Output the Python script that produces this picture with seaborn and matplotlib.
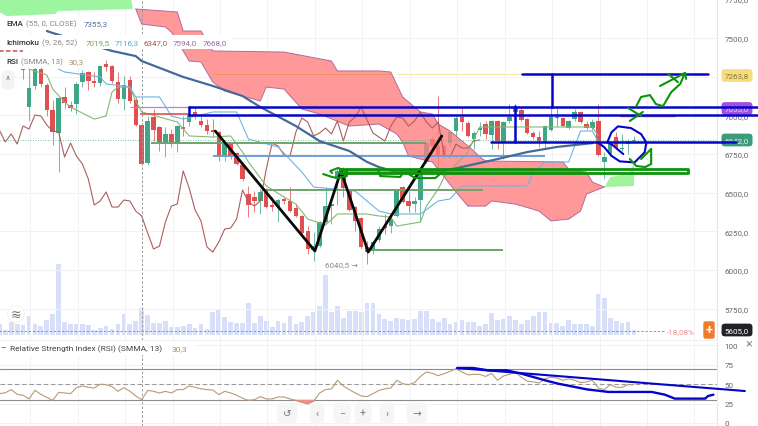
import numpy as np
import matplotlib
matplotlib.use("Agg")
import matplotlib.pyplot as plt
from matplotlib.patches import Rectangle
import seaborn as sns

# ---------- data ----------
opens = [7298,7053,7189,7298,7195,7034,6885,7118,7066,7072,7214,7279,7221,7208,7331,7318,7214,7105,7227,7098,
         6937,6691,6988,6924,6820,6879,6820,6924,6956,7021,6963,6937,6904,6891,6730,6820,6756,6678,6491,6472,
         6446,6523,6420,6407,6459,6446,6401,6349,6252,6129,6155,6310,6413,6588,6640,6510,6407,6336,6149,6123,
         6194,6284,6284,6349,6536,6446,6426,6452,6698,6846,6801,6801,6820,6898,6988,6950,6846,6904,6943,6872,
         6963,6827,6963,7021,7034,6975,6885,6859,6827,6904,6988,6982,6917,6975,7021,6943,6917,6963,6698,6749,
         6859,6782,6814,6833]
highs = [7298,7298,7311,7311,7208,7098,7118,7182,7092,7214,7292,7286,7279,7324,7357,7324,7279,7253,7253,7118,
         6950,6995,7040,6930,6924,6911,6937,6995,7053,7053,7008,6975,6975,6898,6827,6827,6762,6685,6543,6510,
         6523,6530,6472,6459,6472,6536,6426,6355,6284,6245,6317,6536,6426,6665,6665,6523,6413,6342,6187,6187,
         6284,6362,6362,6523,6543,6510,6472,6659,6827,6866,7124,6814,6898,6995,7053,6963,6898,6956,6963,6969,
         6969,6963,7072,7072,7053,6982,6898,6898,6937,7053,7047,6988,6969,7040,7027,6963,6975,7072,6762,6827,
         6891,6878,6846,6866]
lows = [7234,6963,7169,7182,6995,6808,6633,7047,7027,7008,7182,7163,7182,7189,7286,7208,7079,7034,7079,6930,
        6678,6678,6833,6769,6730,6795,6762,6866,6930,6975,6924,6879,6859,6704,6704,6717,6678,6575,6342,6375,
        6362,6401,6381,6310,6426,6375,6342,6233,6103,6058,6149,6304,6297,6420,6472,6381,6252,6142,6040.5,6103,
        6181,6233,6239,6342,6433,6375,6375,6310,6691,6782,6652,6717,6801,6846,6898,6859,6782,6866,6846,6782,
        6782,6717,6950,7001,6963,6879,6846,6795,6782,6898,6930,6924,6911,6963,6950,6911,6904,6736,6588,6736,
        6782,6769,6749,6827]
closes = [7292,7176,7298,7202,7034,6891,7111,7079,7047,7202,7273,7221,7208,7318,7311,7221,7105,7195,7092,6937,
          6685,6963,6904,6827,6879,6814,6930,6911,7001,6995,6937,6898,6891,6730,6820,6736,6685,6588,6420,6446,
          6504,6407,6407,6452,6446,6381,6349,6239,6136,6155,6310,6413,6426,6640,6530,6388,6317,6149,6116,6181,
          6265,6271,6329,6517,6439,6413,6446,6652,6820,6801,6743,6736,6891,6982,6956,6866,6885,6917,6879,6963,
          6833,6956,6988,7053,6969,6885,6859,6833,6930,6988,6982,6930,6963,7021,6956,6917,6956,6743,6730,6814,
          6788,6788,6833,6840]
first_candle = 4

volume = [33,16,38,33,31,58,33,27,46,64,212,40,32,34,34,29,16,22,27,19,33,64,32,41,80,60,35,35,43,25,
          25,27,33,21,33,18,68,74,53,40,35,35,95,37,56,41,25,43,35,56,32,40,56,68,88,180,68,86,50,71,
          72,70,97,95,63,48,41,52,48,45,48,72,72,48,38,50,34,40,46,39,40,26,32,65,46,48,56,44,34,44,
          56,68,68,37,35,27,44,34,34,34,26,122,110,52,41,36,40,16]

rsi = [37.8,39,43,37,35.7,31,42,37,33,29,39.5,38.7,37.8,45.5,47.7,46,45,50,49.4,46.8,40.8,45.5,41,34.8,30,
       42,40.8,38.7,40.8,38.7,43,43,47.7,46,44,43,42.5,36.5,40.8,38.7,35.7,32,29,30,34,31,31,33.5,33.5,31,
       29,26.6,24.5,28,38.7,43,44,55,47.7,43,38.7,34.8,34,37.8,42,44,45,55,50.7,49.4,52,60,65.7,64,61,63.6,
       66.6,70,65.7,62,62.7,62.7,60,64,55,60.6,62.7,65,59,54,53,51.5,57,59,58,55,57,55,52,53,55,45,43,49.4,
       46,46,49.4,49.4]

tenkan_bar = [5,8,9,11,12,16,18,19,20,22,23,24,27,30,32,36,39,41,42,45,48,50,52,55,57,62,64,66,67,69,71,72,74,75,79,80,81,86,100,101]
tenkan = [7298,7260,7169,7085,7053,6975,6995,7150,7182,7182,7092,7021,6988,6956,6866,6859,6866,6762,6698,6543,6472,6426,6329,
          6291,6362,6362,6349,6342,6284,6297,6310,6413,6523,6601,6762,6846,6924,6924,6924,6866]
kijun_bar = [10,11,17,18,22,23,27,29,31,36,40,42,47,51,53,60,61,64,66,71,74,76,78,89,90,92,96,97,98,100,101]
kijun = [7298,7279,7247,7202,7182,7118,7118,6995,6975,7021,7021,6846,6795,6633,6536,6510,6478,6381,6362,6362,6446,6459,6543,
         6543,6633,6698,6698,6801,6898,6898,6827]
ema_bar = [8,9,19,23,24,31,36,41,44,50,54,59,62,64,67,75,84,89,94,100]
ema = [7544,7531,7415,7382,7350,7247,7189,7124,7053,6930,6833,6769,6698,6665,6633,6640,6717,6762,6795,6820]

red_top_bar = [23,30,31,34,36,48,56,57,64,66,68,69,71,73,74,76,80,81,82,95,96,99,100,102]
red_top = [7686,7667,7544,7544,7415,7408,7350,7286,7286,7279,7118,7085,7021,7008,6943,6898,6769,6730,6704,6698,6652,6633,6568,6536]
red_low_bar = [23,24,28,29,31,32,34,36,38,44,45,48,51,54,59,64,67,68,69,73,77,79,82,83,87,91,93,96,98,99,102]
red_low = [7686,7589,7570,7537,7415,7350,7344,7214,7156,7092,7182,7169,7040,7008,6930,6943,6879,6827,6736,6698,6504,6413,6413,
           6446,6426,6381,6317,6329,6381,6491,6536]
green_top_bar = [102,103,106,107]
green_top = [6536,6601,6620,6685]
green_low_bar = [102,107]
green_low = [6536,6543]
old_green_bar = [0,1.2,9.4,9.9,22.5,22,0]
old_green = [7666,7640,7654,7673,7686,7800,7800]

price_ticks = [7750,7500,7250,7000,6750,6500,6250,6000,5750]
rsi_ticks = [100,75,50,25,0]

# hand-drawn strokes (bar, price) and (bar, RSI)
zig_bar = [36.4,53.2,57.6,62.2,74.6]
zig_price = [6898,6123,6640,6116,6866]
circle_bar = [100.9,102,103.2,104.6,107.1,108.8,109.1,108.2,106.5,104.3,103.2,102.5,103.2,105.2]
circle_price = [6824,6793,6738,6702,6695,6760,6824,6878,6917,6928,6889,6824,6813,6749]
squig_bar = [107.4,108.2,109.7,110.7,111.9,113.3,114.8,115.6]
squig_price = [7059,7118,7130,7072,7059,7150,7202,7273]
arrow_bar = [111.4,115.6,115.8]
arrow_price = [7189,7273,7234]
cross_a_bar = [112.8,114.4]
cross_a_price = [7266,7214]
x1_bar = [106,108.2]
x1_price = [7047,6995]
x2_bar = [108.5,106.3]
x2_price = [7021,6963]
low_green_bar = [106.3,107.4,108.9,109.9,109.9,108.2]
low_green_price = [6717,6672,6665,6685,6782,6717]
scrib_bar = [54.6,56.1,57.1,58.6,58.6,57.1,55.8,56.1]
scrib_price = [6620,6601,6594,6607,6640,6659,6640,6627]
scrib2_bar = [63.9,64.2,67.6,68]
scrib2_price = [6640,6607,6601,6627]
scrib3_bar = [68.7,70.1,73.5,74.3]
scrib3_price = [6627,6594,6594,6620]
rsi_line_bar = [77.2,125.7]
rsi_line = [70.9,41.2]
rsi_curve_bar = [77.2,79.9,82.4,85.5,88,92,94.2,99,102.7,110,112.2,113.9,119,119.5,120.4]
rsi_curve = [70.9,70.9,67.9,67.9,63.6,55,50.7,43.4,40,40,36.5,31.4,31.4,34.8,36.5]

# ---------- figure ----------
W, H = 758, 427
sns.set_theme(style="white")
plt.rcParams["font.family"] = ["Roboto", "DejaVu Sans"]
fig = plt.figure(figsize=(W / 100, H / 100), dpi=100, facecolor="white")


def pos(x0, y0, x1, y1):
    return [x0 / W, 1 - y1 / H, (x1 - x0) / W, (y1 - y0) / H]


XLIM = (0.11, 121.0)
YLIM = (5548, 7750.7)
main_pos = pos(0, 0, 717, 341)
ax_vol = fig.add_axes(main_pos, zorder=1)
ax = fig.add_axes(main_pos, zorder=2)
ax_top = fig.add_axes(main_pos, zorder=6)
ax_rsi = fig.add_axes(pos(0, 343, 717, 427), zorder=2)
ax.patch.set_alpha(0)
ax_top.patch.set_alpha(0)

GREEN, RED = "#3fa687", "#e24f50"
bars = np.arange(len(volume))
sns.barplot(x=bars, y=volume, native_scale=True, color="#d8dff9", saturation=1, width=0.8,
            edgecolor="none", linewidth=0, ax=ax_vol)
ax_vol.set_xlim(*XLIM)
ax_vol.set_ylim(-15, 1008)
ax_vol.axis("off")

cbars = np.arange(first_candle, first_candle + len(opens))
o, h, l, c = map(np.array, (opens, highs, lows, closes))
cols = [GREEN if b >= a else RED for a, b in zip(o, c)]
ax.vlines(cbars, l, h, colors=cols, lw=0.7, alpha=0.75, zorder=2)
ax.bar(cbars, np.maximum(np.abs(c - o), 6), bottom=np.minimum(o, c), width=0.76, color=cols,
       edgecolor="none", linewidth=0, zorder=2.5)

ax.fill(list(red_top_bar) + red_low_bar[::-1], list(red_top) + red_low[::-1], color="#ff7f7f", alpha=0.8, lw=0, zorder=3)
ax.fill(list(green_top_bar) + green_low_bar[::-1], list(green_top) + green_low[::-1], color="#93f08c", alpha=0.85, lw=0, zorder=3)
ax.fill(old_green_bar, old_green, color="#9df5a0", lw=0, zorder=3)
for bx, by in ((red_top_bar, red_top), (red_low_bar, red_low)):
    ax.plot(bx, by, color="#b46a9c", lw=0.7, zorder=3.2)


def series(a, x, y, color, lw, z=4):
    sns.lineplot(x=x, y=y, color=color, linewidth=lw, ax=a, zorder=z, sort=False, estimator=None, legend=False)


series(ax, cbars - 26, closes, "#aa5f5f", 0.8)
series(ax, tenkan_bar, tenkan, "#86b872", 0.8)
series(ax, kijun_bar, kijun, "#6cb5e4", 0.8)
series(ax, ema_bar, ema, "#46699c", 1.6, 4.5)

# drawn levels on the chart
ax.hlines(6820, 25.5, 72, color="#6fa36c", lw=1.4, zorder=4)
ax.hlines(6517, 45, 81.5, color="#6fa36c", lw=1.4, zorder=4)
ax.hlines(6129, 62.8, 85, color="#6fa36c", lw=1.4, zorder=4)
ax.hlines(6736, 36, 92, color="#6d9fd6", lw=1.4, zorder=4)
ax.hlines(7008, 23.7, 32, color="#d9534f", lw=1.2, zorder=4)
ax.hlines(7050, 22, 32, color="#c583c6", lw=0.9, zorder=4)
ax.hlines(6992, 104.6, 114, color="#b04fa0", lw=1.0, zorder=4)
ax.hlines(7266, 36, 66, color="#f2925f", lw=0.7, zorder=4)
ax.hlines(7266, 67, 88.1, color="#f6eaa6", lw=0.9, zorder=4)
ax.hlines(6842, *XLIM, color="#58a88f", lw=0.6, ls=(0, (1, 2)), zorder=4)
ax.hlines(5605, 0, 112, color="#7d8bb8", lw=0.6, ls=(0, (3, 2)), zorder=4)
ax.hlines(7415, 0, 4, color="#c9514f", lw=1.1, ls=(0, (3, 1.5)), zorder=4)
ax.axvline(24, color="#9a9a9a", lw=0.7, ls=(0, (2.5, 2)), zorder=4.6)

ax.set_xlim(*XLIM)
ax.set_ylim(*YLIM)
ax.set_xticks(np.arange(5.2, 121, 8))
ax.set_xticklabels([])
ax.yaxis.tick_right()
ax.set_yticks(price_ticks)
ax.set_yticklabels([f"{p},0" for p in price_ticks], fontsize=5.8, color="#666666")
ax.tick_params(axis="y", length=0, pad=5.5)
ax.tick_params(axis="x", length=0)
ax.grid(True, color="#f1f2f6", lw=0.7)
ax.set_axisbelow(True)
for s in ("top", "left", "bottom"):
    ax.spines[s].set_visible(False)
ax.spines["right"].set_color("#e6e6ea")
ax.spines["right"].set_linewidth(0.8)

# overlay of hand-drawn strokes
BLUE, HGREEN = "#0505c8", "#0b930b"
ax_top.set_xlim(*XLIM)
ax_top.set_ylim(*YLIM)
ax_top.axis("off")


def stroke(x, y, color, lw=1.8):
    ax_top.plot(x, y, color=color, lw=lw, clip_on=False, solid_capstyle="round", solid_joinstyle="round")


stroke(zig_bar, zig_price, "#0a0a0a", 2.0)
stroke([32, 127.9], [7050, 7050], BLUE)
stroke([32, 127.9], [7000, 7000], BLUE)
stroke([32, 32], [7050, 7000], BLUE)
stroke([82.9, 124.2], [6830, 6830], BLUE)
stroke([88.1, 119.5], [7266, 7266], BLUE)
stroke([93.2, 93.2], [7266, 7050], BLUE)
stroke([86.9, 86.9], [7059, 6827], BLUE)
stroke(circle_bar, circle_price, BLUE, 1.5)
for bx, by in ((squig_bar, squig_price), (arrow_bar, arrow_price), (cross_a_bar, cross_a_price),
               (x1_bar, x1_price), (x2_bar, x2_price), (low_green_bar, low_green_price),
               (scrib_bar, scrib_price), (scrib2_bar, scrib2_price), (scrib3_bar, scrib3_price)):
    stroke(bx, by, HGREEN, 1.5)
ax_top.fill_between([57.4, 98], 6627, 6652, color="#5f8a1e", alpha=0.65, lw=0)
ax_top.plot([57.4, 116.1, 116.1, 57.4, 57.4], [6652, 6652, 6627, 6627, 6652], color=HGREEN, lw=2.0, clip_on=False)

# RSI pane
series(ax_rsi, bars, rsi, "#b99a76", 0.8)
arr = np.array(rsi)
ax_rsi.fill_between(bars, arr, 30, where=arr < 30, color="#f48a8a", lw=0, interpolate=True, zorder=3)
ax_rsi.axhline(70, color="#8c8c8c", lw=0.8, zorder=2)
ax_rsi.axhline(30, color="#8c8c8c", lw=0.8, zorder=2)
ax_rsi.axhline(50, color="#9a9a9a", lw=0.8, ls=(0, (4, 2.5)), zorder=2)
ax_rsi.axvline(24, color="#9a9a9a", lw=0.7, ls=(0, (2.5, 2)), zorder=4.6)
ax_rsi.plot(rsi_line_bar, rsi_line, color=BLUE, lw=1.5, clip_on=False, zorder=6)
ax_rsi.plot(rsi_curve_bar, rsi_curve, color=BLUE, lw=1.7, clip_on=False, zorder=6)
ax_rsi.set_xlim(*XLIM)
ax_rsi.set_ylim(-3.9, 104.4)
ax_rsi.set_xticks(np.arange(5.2, 121, 8))
ax_rsi.set_xticklabels([])
ax_rsi.yaxis.tick_right()
ax_rsi.set_yticks(rsi_ticks)
ax_rsi.set_yticklabels([str(t) for t in rsi_ticks], fontsize=5.8, color="#666666")
ax_rsi.tick_params(axis="y", length=0, pad=5.5)
ax_rsi.tick_params(axis="x", length=0)
ax_rsi.grid(True, color="#f1f2f6", lw=0.7)
ax_rsi.set_axisbelow(True)
for s in ("top", "left", "bottom"):
    ax_rsi.spines[s].set_visible(False)
ax_rsi.spines["right"].set_color("#e6e6ea")
ax_rsi.spines["right"].set_linewidth(0.8)
ax_rsi.set_ylabel("")


# ---------- interface text ----------
def px(x, y):
    return x / W, 1 - y / H


def label(x, y, s, color="#555555", size=5.8, weight="normal", ha="left", z=4, **kw):
    fx, fy = px(x, y)
    return fig.text(fx, fy, s, color=color, fontsize=size, fontweight=weight, ha=ha, va="center", zorder=z, **kw)


def box(x0, y0, x1, y1, color="white", z=3):
    fig.add_artist(Rectangle(px(x0, y1), (x1 - x0) / W, (y1 - y0) / H, transform=fig.transFigure,
                             facecolor=color, edgecolor="none", zorder=z))


box(0, 19, 114, 31)
box(0, 36, 232, 50)
box(0, 54, 90, 69)
box(0, 342, 195, 356)
box(0, 340.5, 717, 342, "#efeff3")

label(6, 24, "EMA", "#333333", weight="medium")
label(26, 24, "(55, 0, CLOSE)", "#888888")
label(83.5, 24, "7355,3", "#4a74a0")
label(6, 43, "Ichimoku", "#333333", weight="medium")
label(42, 43, "(9, 26, 52)", "#888888")
label(85.5, 43, "7019,5", "#74a85a")
label(114.5, 43, "7116,3", "#52a5d8")
label(143.5, 43, "6347,0", "#a85050")
label(173, 43, "7594,0", "#9a6aa8")
label(202.5, 43, "7668,0", "#9a6aa8")
label(6, 62, "RSI", "#333333", weight="medium")
label(21, 62, "(SMMA, 13)", "#888888")
label(68.5, 62, "30,3", "#b08a5a")
label(10, 349, "Relative Strength Index (RSI) (SMMA, 13)", "#444444", size=6.0)
label(171.5, 349, "30,3", "#b08a5a", size=6.0)
label(0, 348.5, "–", "#111111", size=6.0)
label(358, 265, "6040,5 →", "#888888", ha="right")
label(681, 332, "-18,08%", "#e39090", ha="center")
label(8, 81, "^", "#777777", size=7, ha="center",
      bbox=dict(boxstyle="round,pad=0.45", fc="#f3f3f5", ec="none"))
label(16, 315, "≋", "#777777", size=9, ha="center",
      bbox=dict(boxstyle="circle,pad=0.15", fc="white", ec="#f0f0f0", lw=0.5))
label(749, 344, "×", "#888888", size=9, ha="center")

for x, y, t, fc, tc in ((737, 76.5, "7263,8", "#f6dc7c", "#8a7a40"),
                        (737, 109.5, "7055,0", "#a54ee0", "#e8d8f8"),
                        (737, 141, "6842,0", "#3d9b7c", "#dff3ec"),
                        (737, 331, "5605,0", "#222226", "#ffffff")):
    label(x, y, t, tc, ha="center", z=5,
          bbox=dict(boxstyle="round,pad=0.42", fc=fc, ec="none"))
label(709, 331, "+", "#ffffff", size=9, weight="bold", ha="center", z=5,
      bbox=dict(boxstyle="round,pad=0.18", fc="#ee7c2b", ec="none"))

for x, t in ((287, "↺"), (317, "‹"), (342, "−"), (363, "+"), (387, "›"), (417, "→")):
    label(x, 414, t, "#777777", size=7.5, ha="center",
          bbox=dict(boxstyle="round,pad=0.55", fc="#f6f6f8", ec="none"))

fig.savefig("out.png", dpi=100)
